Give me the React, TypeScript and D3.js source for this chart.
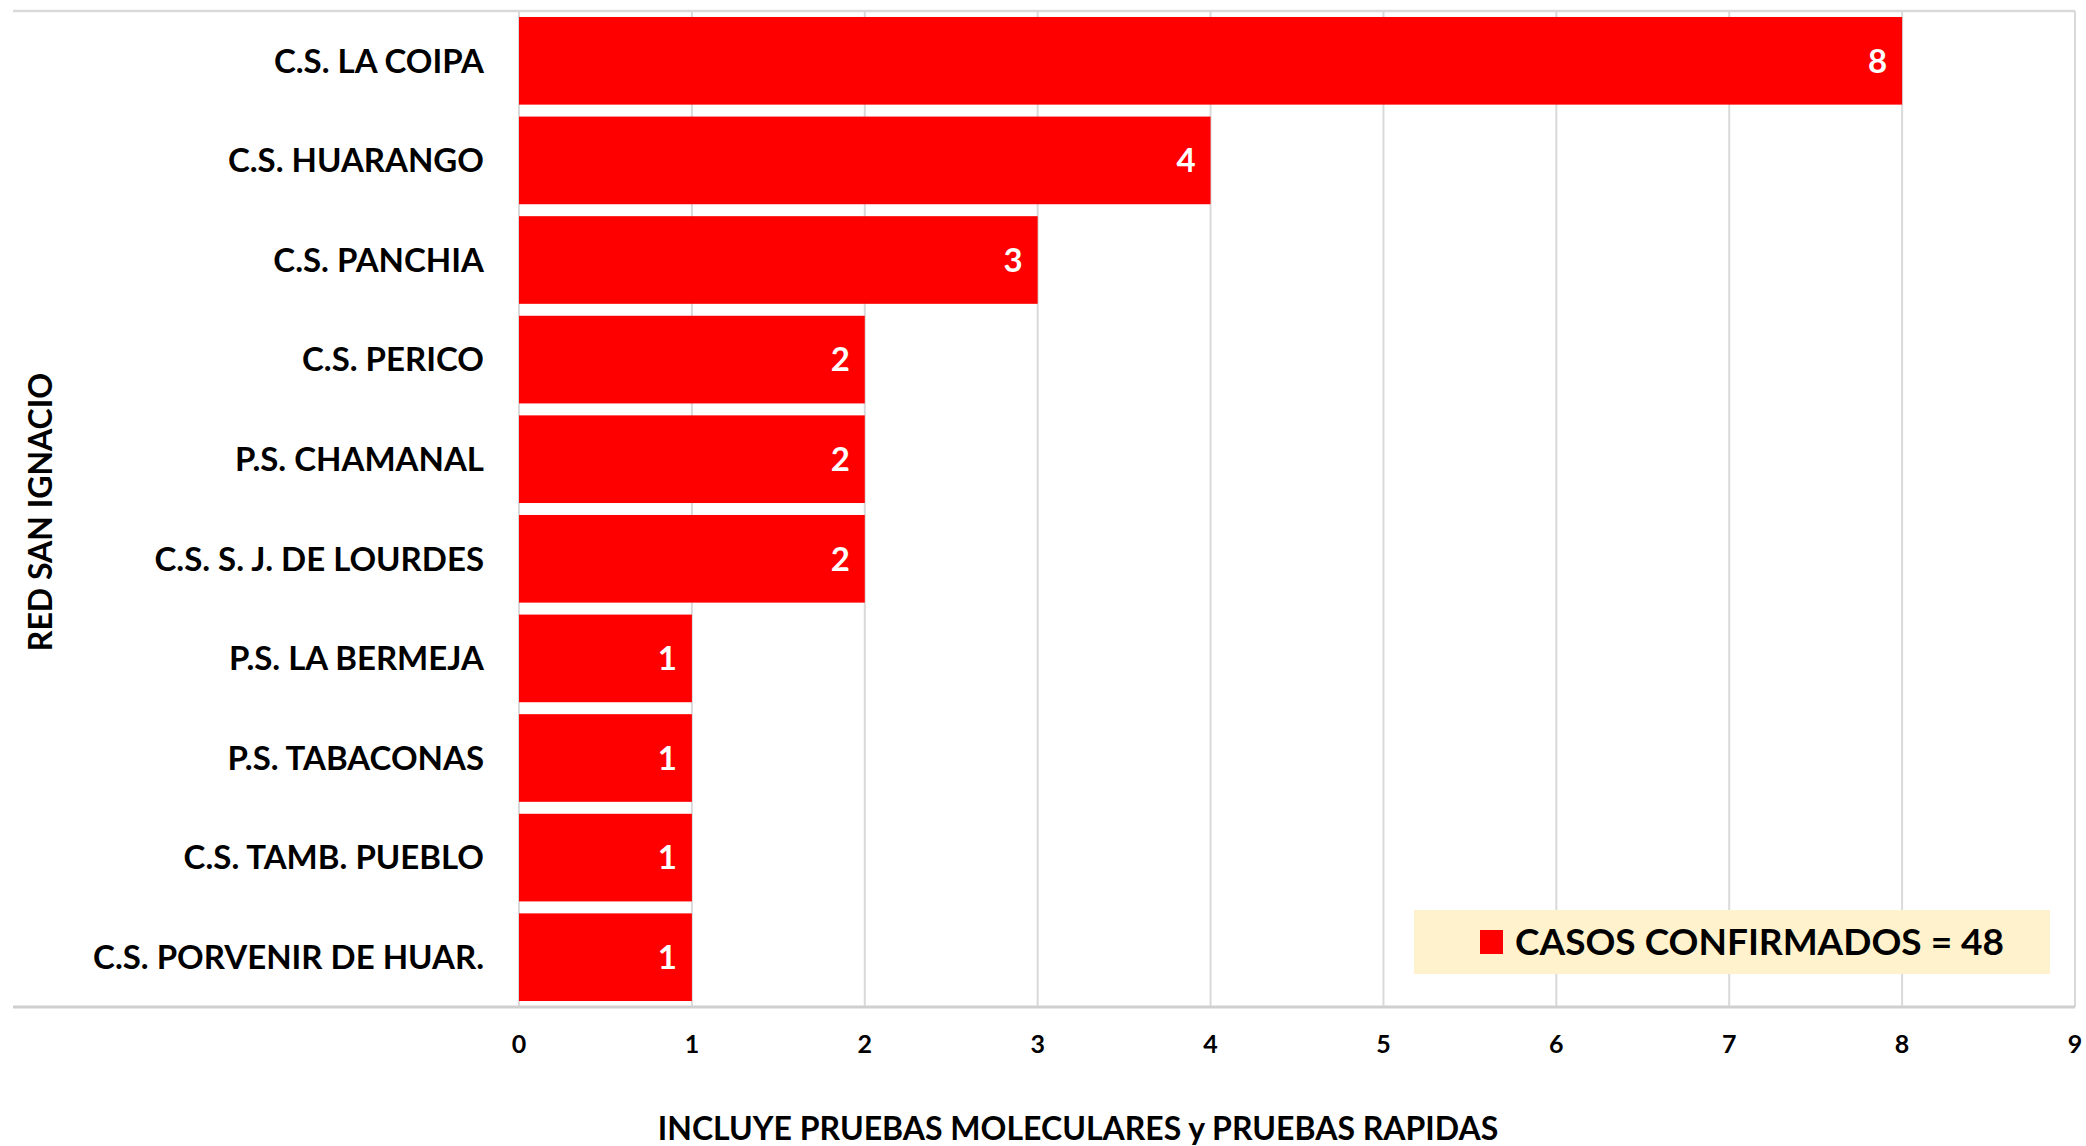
import React from "react";
import * as d3 from "d3";

const categories = [
  "C.S. LA COIPA",
  "C.S. HUARANGO",
  "C.S. PANCHIA",
  "C.S. PERICO",
  "P.S. CHAMANAL",
  "C.S. S. J. DE LOURDES",
  "P.S. LA BERMEJA",
  "P.S. TABACONAS",
  "C.S. TAMB. PUEBLO",
  "C.S. PORVENIR DE HUAR.",
];
const values = [8, 4, 3, 2, 2, 2, 1, 1, 1, 1];
const xTicks = [0, 1, 2, 3, 4, 5, 6, 7, 8, 9];
const yAxisTitle = "RED SAN IGNACIO";
const xAxisTitle = "INCLUYE PRUEBAS MOLECULARES y PRUEBAS RAPIDAS";
const legendText = "CASOS CONFIRMADOS = 48";

const W = 2086;
const H = 1146;
const FONT = "Lato, 'Open Sans', sans-serif";

export default function App() {
  const x = d3.scaleLinear().domain([0, 9]).range([519, 2075]);
  const y = d3
    .scaleBand<string>()
    .domain(categories)
    .range([11, 1007])
    .paddingInner(0.12)
    .paddingOuter(0.06);
  const gridColor = "#d9d9d9";

  return (
    <div style={{ position: "absolute", left: 0, top: 0 }}>
      <svg width={W} height={H} style={{ display: "block", background: "#fff" }}>
        <line x1={13} x2={x(9)} y1={11} y2={11} stroke={gridColor} strokeWidth={2.5} />
        {xTicks.map((t) => (
          <line key={"g" + t} x1={x(t)} x2={x(t)} y1={11} y2={1007} stroke={gridColor} strokeWidth={2} />
        ))}
        {categories.map((c, i) => (
          <rect key={"b" + c} x={x(0)} y={y(c)!} width={x(values[i]) - x(0)} height={y.bandwidth()} fill="#ff0000" />
        ))}
        {categories.map((c, i) => (
          <text
            key={"v" + c}
            x={x(values[i]) - 15}
            y={y(c)! + y.bandwidth() / 2}
            dy="0.36em"
            textAnchor="end"
            fill="#ffffff"
            fontFamily={FONT}
            fontWeight={700}
            fontSize={33}
          >
            {values[i]}
          </text>
        ))}
        <line x1={13} x2={x(9)} y1={1007} y2={1007} stroke="#cfcfcf" strokeWidth={3} />
        {categories.map((c) => (
          <text
            key={"c" + c}
            x={484}
            y={y(c)! + y.bandwidth() / 2}
            dy="0.36em"
            textAnchor="end"
            fill="#000"
            fontFamily={FONT}
            fontWeight={700}
            fontSize={33}
          >
            {c}
          </text>
        ))}
        {xTicks.map((t) => (
          <text
            key={"t" + t}
            x={x(t)}
            y={1044}
            dy="0.36em"
            textAnchor="middle"
            fill="#000"
            fontFamily={FONT}
            fontWeight={700}
            fontSize={25}
          >
            {t}
          </text>
        ))}
        <text
          transform={`translate(40, ${512}) rotate(-90)`}
          textAnchor="middle"
          dy="0.36em"
          fill="#000"
          fontFamily={FONT}
          fontWeight={700}
          fontSize={32}
        >
          {yAxisTitle}
        </text>
        <text
          x={1078}
          y={1128}
          dy="0.36em"
          textAnchor="middle"
          fill="#000"
          fontFamily={FONT}
          fontWeight={700}
          fontSize={32}
        >
          {xAxisTitle}
        </text>
        <rect x={1414} y={910} width={636} height={64} fill="#fff2cc" />
        <rect x={1480} y={930} width={23} height={24} fill="#ff0000" />
        <text
          x={1515}
          y={942}
          dy="0.36em"
          textAnchor="start"
          fill="#000"
          fontFamily={FONT}
          fontWeight={700}
          fontSize={37}
        >
          {legendText}
        </text>
      </svg>
    </div>
  );
}
